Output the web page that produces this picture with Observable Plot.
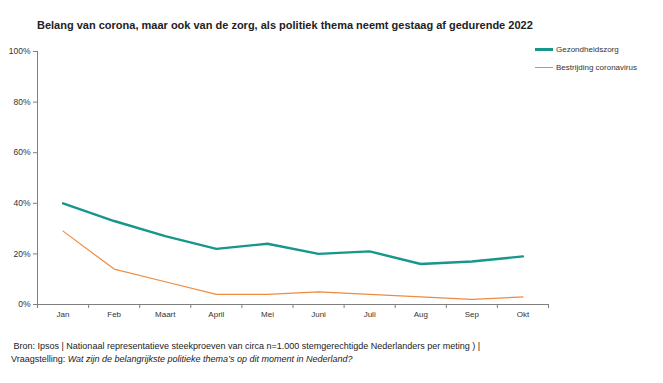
<!DOCTYPE html>
<html><head><meta charset="utf-8">
<script src="https://cdn.jsdelivr.net/npm/d3@7"></script>
<script src="https://cdn.jsdelivr.net/npm/@observablehq/plot@0.6"></script>
<style>
body{margin:0;background:#fff;font-family:"Liberation Sans",Arial,sans-serif;}
#wrap{position:relative;width:663px;height:383px;overflow:hidden;}
#title{position:absolute;left:37px;top:19px;font-size:11px;font-weight:bold;color:#222;}
#chart{position:absolute;left:0;top:0;}
.leg{position:absolute;left:535px;font-size:8px;color:#333;display:flex;align-items:center;}
.leg span{display:inline-block;width:18px;margin-right:3px;}
#foot{position:absolute;left:11px;top:340px;font-size:9px;color:#222;line-height:13px;}
</style></head>
<body><div id="wrap">
<div id="title">Belang van corona, maar ook van de zorg, als politiek thema neemt gestaag af gedurende 2022</div>
<div id="chart"></div>
<div class="leg" style="top:45px"><span style="height:3px;background:#17968b"></span>Gezondheidszorg</div>
<div class="leg" style="top:63px"><span style="height:0;border-top:1.5px solid #ef8a3e"></span>Bestrijding coronavirus</div>
<div id="foot">&nbsp;Bron: Ipsos | Nationaal representatieve steekproeven van circa n=1.000 stemgerechtigde Nederlanders per meting ) |<br>Vraagstelling: <i>Wat zijn de belangrijkste politieke thema’s op dit moment in Nederland?</i></div>
</div>
<script>
const months = ["Jan","Feb","Maart","April","Mei","Juni","Juli","Aug","Sep","Okt"];
const gezondheidszorg = [0.40,0.33,0.27,0.22,0.24,0.20,0.21,0.16,0.17,0.19];
const corona = [0.29,0.14,0.09,0.04,0.04,0.05,0.04,0.03,0.02,0.03];
const yTicks = [0,0.2,0.4,0.6,0.8,1];

const idx = months.map((m,i)=>i);
const bounds = d3.range(-0.5, months.length, 1);
const gRows = months.map((m,i)=>({i, v:gezondheidszorg[i]}));
const cRows = months.map((m,i)=>({i, v:corona[i]}));

const plot = Plot.plot({
  width:663, height:330,
  marginTop:51, marginLeft:37, marginRight:115, marginBottom:26,
  style:{fontFamily:"Liberation Sans, Arial, sans-serif", fontSize:"8px", color:"#333", background:"transparent"},
  x:{type:"linear", domain:[-0.5, months.length-0.5], label:null},
  y:{domain:[0,1], label:null},
  marks:[
    Plot.axisX({ticks:bounds, tickSize:4, tickFormat:()=>"", stroke:"#7f7f7f"}),
    Plot.axisX({ticks:idx, tickSize:0, tickPadding:7, tickFormat:i=>months[i], fontSize:8, color:"#333"}),
    Plot.axisY({ticks:yTicks, tickSize:4, tickPadding:3, tickFormat:d3.format(".0%"), stroke:"#7f7f7f", fontSize:8.5, color:"#333"}),
    Plot.ruleY([0],{stroke:"#7f7f7f"}),
    Plot.ruleX([-0.5],{stroke:"#7f7f7f"}),
    Plot.line(cRows,{x:"i",y:"v",stroke:"#ef8a3e",strokeWidth:1.2}),
    Plot.line(gRows,{x:"i",y:"v",stroke:"#17968b",strokeWidth:2.4})
  ]
});
document.getElementById("chart").appendChild(plot);
</script>
</body></html>
